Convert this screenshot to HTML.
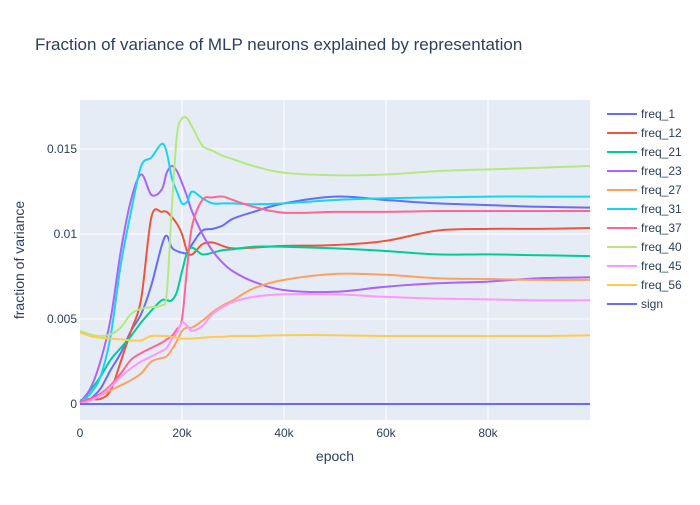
<!DOCTYPE html>
<html><head><meta charset="utf-8">
<style>
body{margin:0;background:#fff;font-family:"Liberation Sans",Arial,sans-serif;}
svg text{font-family:"Liberation Sans",Arial,sans-serif;fill:#2a3f5f;}
</style></head>
<body>
<svg id="chart" width="700" height="500" xmlns="http://www.w3.org/2000/svg">
<rect width="700" height="500" fill="#fff"/>
<text x="35" y="50" font-size="17">Fraction of variance of MLP neurons explained by representation</text>
<rect x="80" y="100" width="510" height="320" fill="#e5ecf6"/>
<g id="grid"></g>
<g id="series"></g>
<g id="axes"></g>
<g id="legend"></g>
<text x="335" y="461" font-size="14" text-anchor="middle">epoch</text>
<text transform="translate(24,260) rotate(-90)" font-size="14" text-anchor="middle">fraction of variance</text>
</svg>
<script>
const epochs = [0,2,4,6,8,10,12,14,16,17,18,19,20,21,22,24,26,28,30,34,40,50,60,70,80,90,100];
const seriesNames = ["freq_1","freq_12","freq_21","freq_23","freq_27","freq_31","freq_37","freq_40","freq_45","freq_56","sign"];
const colors = ["#636efa","#EF553B","#00cc96","#ab63fa","#FFA15A","#19d3f3","#FF6692","#B6E880","#FF97FF","#FECB52","#636efa"];
const freq_1  = [0.1,0.3,0.9,2.0,3.0,4.3,5.3,7.0,9.3,9.9,9.2,9.0,8.9,8.9,9.4,10.2,10.3,10.5,10.9,11.3,11.8,12.2,12.0,11.8,11.7,11.6,11.55];
const freq_12 = [0.2,0.3,0.3,0.8,2.5,4.3,6.2,11.0,11.3,11.3,11.0,10.6,10.0,9.0,8.8,9.4,9.5,9.3,9.15,9.2,9.3,9.35,9.6,10.2,10.3,10.3,10.35];
const freq_21 = [0.1,0.8,1.6,2.6,3.3,4.0,4.8,5.5,6.1,6.1,6.1,6.6,7.8,8.9,9.2,8.8,8.9,9.05,9.1,9.25,9.25,9.15,9.0,8.8,8.8,8.75,8.7];
const freq_23 = [0.1,0.9,2.5,5.0,9.0,12.0,13.5,12.3,12.6,13.6,14.0,13.7,13.0,12.2,11.3,10.0,9.0,8.3,7.8,7.2,6.7,6.6,6.9,7.1,7.2,7.4,7.45];
const freq_27 = [0.0,0.2,0.5,0.8,1.1,1.4,1.8,2.5,2.7,2.8,3.2,3.7,4.3,4.5,4.5,4.9,5.4,5.8,6.1,6.8,7.3,7.65,7.6,7.4,7.35,7.3,7.3];
const freq_31 = [0.1,0.6,1.6,4.0,8.2,11.3,14.0,14.5,15.3,14.8,13.3,12.5,11.8,11.9,12.5,12.1,11.8,11.8,11.8,11.75,11.8,12.0,12.1,12.15,12.2,12.2,12.2];
const freq_37 = [0.1,0.3,0.6,1.1,1.8,2.6,3.0,3.3,3.6,3.8,4.0,4.4,5.0,8.0,10.5,12.0,12.15,12.2,12.0,11.6,11.25,11.3,11.3,11.35,11.35,11.35,11.35];
const freq_40 = [4.3,4.1,4.0,4.1,4.5,5.3,5.6,5.7,5.8,6.5,11.5,15.8,16.8,16.8,16.3,15.2,14.9,14.6,14.4,14.0,13.6,13.45,13.5,13.7,13.8,13.9,14.0];
const freq_45 = [0.0,0.2,0.5,1.0,1.6,2.1,2.5,2.8,3.1,3.3,3.8,4.2,4.8,4.6,4.3,4.6,5.3,5.7,6.0,6.3,6.45,6.45,6.3,6.2,6.15,6.1,6.1];
const freq_56 = [4.2,4.0,3.9,3.85,3.8,3.75,3.75,4.0,4.0,4.0,3.95,3.9,3.85,3.85,3.85,3.9,3.95,3.95,4.0,4.0,4.05,4.05,4.0,4.0,4.0,4.0,4.05];
const sign    = [0,0,0,0,0,0,0,0,0,0,0,0,0,0,0,0,0,0,0,0,0,0,0,0,0,0,0];
const allValues = [freq_1,freq_12,freq_21,freq_23,freq_27,freq_31,freq_37,freq_40,freq_45,freq_56,sign];
const xTicks = [0,20,40,60,80];
const xTickLabels = ["0","20k","40k","60k","80k"];
const yTicks = [0,5,10,15];
const yTickLabels = ["0","0.005","0.01","0.015"];

const NS="http://www.w3.org/2000/svg";
const X0=80,X1=590,Y0=420,Y1=100, xMin=0,xMax=100, yMin=-0.94,yMax=17.88;
function xs(v){return X0+(v-xMin)/(xMax-xMin)*(X1-X0);}
function ys(v){return Y0-(v-yMin)/(yMax-yMin)*(Y0-Y1);}
function mk(tag,attrs,parent){const e=document.createElementNS(NS,tag);for(const k in attrs)e.setAttribute(k,attrs[k]);parent.appendChild(e);return e;}
const grid=document.getElementById('grid'), axes=document.getElementById('axes');
xTicks.forEach((t,i)=>{
  if(t>0){const l=mk('line',{x1:xs(t),x2:xs(t),y1:Y1,y2:Y0,stroke:'#fff','stroke-width':1},grid);
  
  }
  const tx=mk('text',{x:xs(t),y:Y0+17,'font-size':12,'text-anchor':'middle'},axes);
  tx.textContent=xTickLabels[i];
  
  
});
yTicks.forEach((t,i)=>{
  const l=mk('line',{x1:X0,x2:X1,y1:ys(t),y2:ys(t),stroke:'#fff','stroke-width':t===0?2:1},grid);
  
  
  const tx=mk('text',{x:X0-3,y:ys(t)+4,'font-size':12,'text-anchor':'end'},axes);
  tx.textContent=yTickLabels[i];
  
  
});
function smoothPath(pts){
  let d='M'+pts[0][0].toFixed(1)+','+pts[0][1].toFixed(1);
  for(let i=0;i<pts.length-1;i++){
    const p0=pts[Math.max(0,i-1)],p1=pts[i],p2=pts[i+1],p3=pts[Math.min(pts.length-1,i+2)];
    const c1=[p1[0]+(p2[0]-p0[0])/6,p1[1]+(p2[1]-p0[1])/6];
    const c2=[p2[0]-(p3[0]-p1[0])/6,p2[1]-(p3[1]-p1[1])/6];
    d+=' C'+c1[0].toFixed(1)+','+c1[1].toFixed(1)+' '+c2[0].toFixed(1)+','+c2[1].toFixed(1)+' '+p2[0].toFixed(1)+','+p2[1].toFixed(1);
  }
  return d;
}
const sg=document.getElementById('series'), lg=document.getElementById('legend');
allValues.forEach((vals,s)=>{
  const pts=epochs.map((e,i)=>[xs(e),ys(vals[i])]);
  const p=mk('path',{d:smoothPath(pts),fill:'none',stroke:colors[s],'stroke-width':2},sg);
  
  
  const y=114+s*19;
  const g=mk('g',{},lg);
  
  
  mk('line',{x1:607,x2:637,y1:y,y2:y,stroke:colors[s],'stroke-width':2},g);
  const t=mk('text',{x:641,y:y+4,'font-size':12},g);
  t.textContent=seriesNames[s];
});
</script>
</body></html>
